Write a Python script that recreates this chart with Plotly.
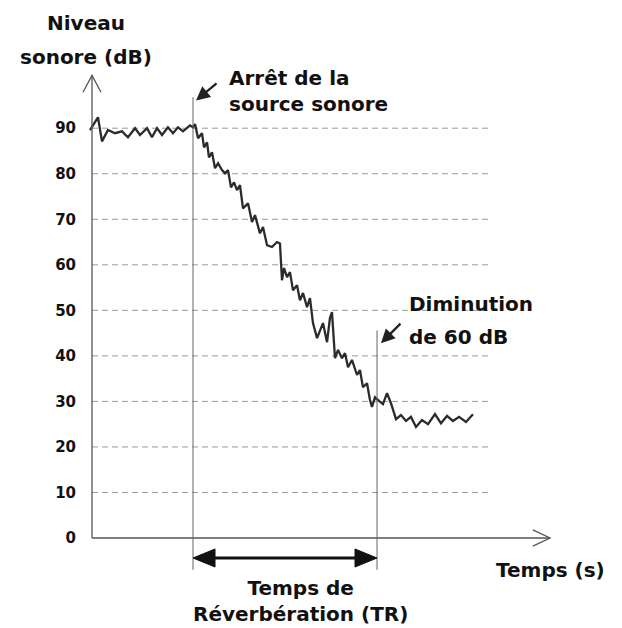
import plotly.graph_objects as go

# ---- data -------------------------------------------------------------
time_s = [-0.02, 0.059, 0.099, 0.158, 0.228, 0.297, 0.356, 0.426, 0.475, 0.545,
          0.594, 0.644, 0.693, 0.752, 0.802, 0.851, 0.901, 0.970, 1.000, 1.020,
          1.050, 1.089, 1.109, 1.139, 1.158, 1.188, 1.218, 1.248, 1.287, 1.317,
          1.347, 1.376, 1.406, 1.436, 1.465, 1.495, 1.545, 1.584, 1.614, 1.663,
          1.693, 1.733, 1.782, 1.832, 1.861, 1.881, 1.901, 1.931, 1.960, 1.990,
          2.030, 2.059, 2.089, 2.129, 2.158, 2.188, 2.228, 2.257, 2.287, 2.327,
          2.356, 2.376, 2.406, 2.436, 2.475, 2.505, 2.535, 2.574, 2.624, 2.653,
          2.683, 2.723, 2.752, 2.772, 2.802, 2.842, 2.881, 2.921, 2.960, 3.010,
          3.059, 3.109, 3.158, 3.208, 3.267, 3.327, 3.396, 3.455, 3.515, 3.574,
          3.634, 3.703, 3.772]
level_db = [89.6, 92.4, 87.1, 89.6, 88.9, 89.3, 88.0, 90.0, 88.5, 90.0,
            88.0, 90.0, 88.5, 90.2, 88.9, 90.2, 89.3, 90.6, 90.2, 90.9,
            87.8, 88.9, 85.8, 86.9, 83.6, 84.7, 81.2, 82.3, 80.8, 80.1,
            80.8, 77.0, 78.1, 76.4, 77.5, 72.4, 73.5, 69.4, 70.9, 66.9,
            68.3, 64.3, 63.9, 65.0, 64.7, 56.6, 59.3, 57.3, 58.4, 54.4,
            55.5, 52.2, 53.8, 50.7, 52.7, 47.2, 43.9, 45.7, 47.2, 43.0,
            48.3, 49.6, 39.5, 41.3, 39.5, 40.6, 37.5, 39.1, 35.8, 36.9,
            33.1, 34.0, 30.3, 28.8, 30.9, 30.1, 29.4, 31.8, 29.6, 26.1,
            27.0, 25.7, 26.6, 24.4, 25.9, 25.0, 27.2, 25.2, 26.8, 25.7,
            26.6, 25.5, 27.2]

tick_vals = [0, 10, 20, 30, 40, 50, 60, 70, 80, 90]
tick_text = ["0", "10", "20", "30", "40", "50", "60", "70", "80", "90"]

t_stop = 1.0      # arrêt de la source sonore
t_tr_end = 2.822  # diminution de 60 dB
t_grid_end = 3.94
t_axis_end = 4.535
db_axis_top = 101.6

FONT = "DejaVu Sans, Verdana, sans-serif"
BLACK = "#111111"

fig = go.Figure()

shapes = []
# dashed horizontal guides
for v in tick_vals[1:]:
    shapes.append(dict(type="line", xref="x", yref="y", x0=0, x1=t_grid_end, y0=v, y1=v,
                       line=dict(color="#9a9a9a", width=1, dash="6px,4px"), layer="below"))
# axes
shapes.append(dict(type="line", xref="x", yref="y", x0=0, x1=t_axis_end, y0=0, y1=0,
                   line=dict(color="#555555", width=1.3)))
shapes.append(dict(type="line", xref="x", yref="y", x0=0, x1=0, y0=0, y1=db_axis_top,
                   line=dict(color="#555555", width=1.3)))
# open chevron arrowheads
shapes.append(dict(type="path", xref="x", yref="y",
                   path=f"M {t_axis_end-0.17},1.8 L {t_axis_end},0 L {t_axis_end-0.17},-1.8",
                   line=dict(color="#555555", width=1.3)))
shapes.append(dict(type="path", xref="x", yref="y",
                   path=f"M -0.089,{db_axis_top-3.7} L 0,{db_axis_top} L 0.089,{db_axis_top-3.7}",
                   line=dict(color="#555555", width=1.3)))
# vertical markers
shapes.append(dict(type="line", xref="x", yref="y", x0=t_stop, x1=t_stop, y0=-7.0, y1=96.8,
                   line=dict(color="#666666", width=1)))
shapes.append(dict(type="line", xref="x", yref="y", x0=t_tr_end, x1=t_tr_end, y0=-7.0, y1=45.6,
                   line=dict(color="#666666", width=1)))
# double arrow (TR)
y_arr = -4.39
shapes.append(dict(type="line", xref="x", yref="y", x0=t_stop + 0.15, x1=t_tr_end - 0.15,
                   y0=y_arr, y1=y_arr, line=dict(color=BLACK, width=3)))
shapes.append(dict(type="path", xref="x", yref="y",
                   path=f"M {t_stop},{y_arr} L {t_stop+0.218},{y_arr+1.98} L {t_stop+0.218},{y_arr-1.98} Z",
                   fillcolor=BLACK, line=dict(color=BLACK, width=1)))
shapes.append(dict(type="path", xref="x", yref="y",
                   path=f"M {t_tr_end},{y_arr} L {t_tr_end-0.218},{y_arr+1.98} L {t_tr_end-0.218},{y_arr-1.98} Z",
                   fillcolor=BLACK, line=dict(color=BLACK, width=1)))

fig.add_trace(go.Scatter(x=time_s, y=level_db, mode="lines",
                         line=dict(color="#2b2b2b", width=2.3), hoverinfo="skip",
                         showlegend=False))

annos = []
fs = 20
tfont = dict(family=FONT, size=fs, color=BLACK, weight="bold")
annos.append(dict(x=0.0122, y=1.090, xref="paper", yref="paper", text="Niveau",
                  showarrow=False, xanchor="center", yanchor="middle", font=tfont))
annos.append(dict(x=0.0122, y=1.0235, xref="paper", yref="paper", text="sonore (dB)",
                  showarrow=False, xanchor="center", yanchor="middle", font=tfont))
annos.append(dict(x=1.34, y=98.1, xref="x", yref="y", text="Arrêt de la<br>source sonore",
                  showarrow=False, xanchor="left", yanchor="middle", align="left",
                  font=tfont))
annos.append(dict(x=3.12, y=51.4, xref="x", yref="y", text="Diminution",
                  showarrow=False, xanchor="left", yanchor="middle", font=tfont))
annos.append(dict(x=3.12, y=44.1, xref="x", yref="y", text="de 60 dB",
                  showarrow=False, xanchor="left", yanchor="middle", font=tfont))
annos.append(dict(x=3.98, y=-7.0, xref="x", yref="y", text="Temps (s)",
                  showarrow=False, xanchor="left", yanchor="middle", align="left",
                  font=tfont))
annos.append(dict(x=0.451, y=-0.043, xref="paper", yref="paper", text="Temps de<br>Réverbération (TR)",
                  showarrow=False, xanchor="center", yanchor="middle", align="center",
                  font=tfont))
# pointer arrows
annos.append(dict(x=1.030, y=96.1, ax=1.248, ay=100.1, xref="x", yref="y", axref="x", ayref="y",
                  text="", showarrow=True, arrowhead=2, arrowsize=1.2, arrowwidth=2.3,
                  arrowcolor="#222222"))
annos.append(dict(x=2.861, y=42.8, ax=3.069, ay=47.4, xref="x", yref="y", axref="x", ayref="y",
                  text="", showarrow=True, arrowhead=2, arrowsize=1.2, arrowwidth=2.3,
                  arrowcolor="#222222"))

fig.update_layout(
    width=614, height=620,
    margin=dict(l=72, r=52, t=61, b=49),
    paper_bgcolor="white", plot_bgcolor="white",
    shapes=shapes, annotations=annos,
    xaxis=dict(range=[-0.1188, 4.7327], showgrid=False, zeroline=False,
               showticklabels=False, showline=False, ticks=""),
    yaxis=dict(range=[-9, 103], showgrid=False, zeroline=False, showline=False,
               ticks="", tickvals=tick_vals, ticktext=tick_text, ticklabelstandoff=3,
               tickfont=dict(family=FONT, size=15, color=BLACK, weight="bold")),
)

fig.write_html("out.html")
